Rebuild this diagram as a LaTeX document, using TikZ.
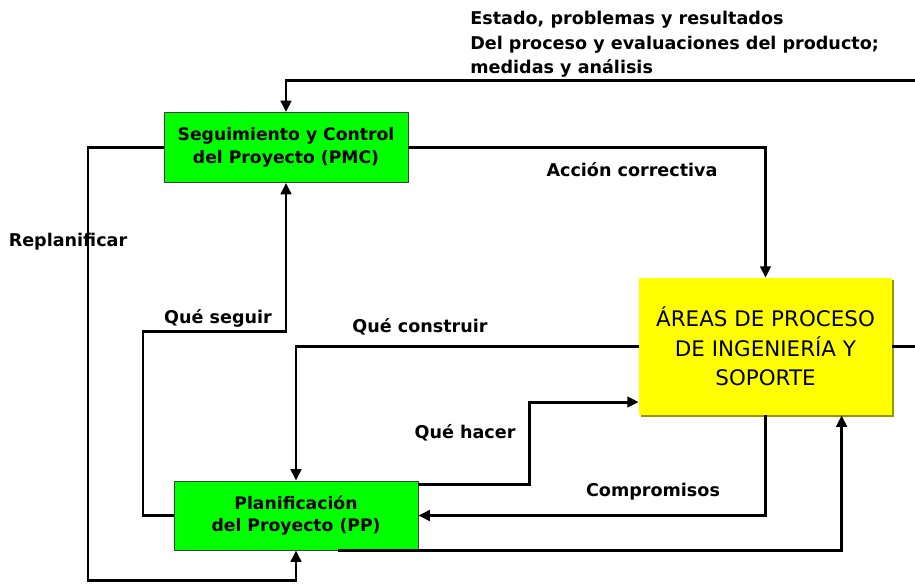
\documentclass[tikz,border=0pt]{standalone}
\usepackage{fontspec}
\setmainfont{DejaVu Sans}
\usetikzlibrary{shadows, arrows.meta, calc}
\definecolor{verdeProc}{RGB}{0,255,0}
\definecolor{amarilloProc}{RGB}{255,255,0}
\definecolor{sombraProc}{RGB}{150,150,0}
\tikzset{
    linea/.style = {draw, line width=1.7pt},
    flujo/.style = {linea, -{Triangle[length=6.5pt, width=6pt]}},
}
\tikzset{
    proceso/.style = {draw=black!75, line width=0.5pt, fill=verdeProc, minimum width=4.88cm,
        minimum height=1.4cm, align=center, inner sep=0pt,
        font=\bfseries\fontsize{9.8}{13}\selectfont},
    areas/.style = {fill=amarilloProc, minimum width=5.06cm, minimum height=2.74cm,
        align=center, inner sep=0pt, font=\fontsize{12.2}{16.7}\selectfont,
        drop shadow={shadow xshift=1.3pt, shadow yshift=-1.3pt, fill=sombraProc, opacity=1}},
    etiqueta/.style = {inner sep=0pt, font=\bfseries\fontsize{10}{13.9}\selectfont},
}

\begin{document}
\begin{tikzpicture}[x=0.02cm, y=-0.02cm]
    \useasboundingbox (0,0) rectangle (915,583);

    \node[proceso] (pmc) at (286, 147.5) {Seguimiento y Control\\del Proyecto (PMC)};
    \node[proceso, minimum height=1.38cm] (pp) at (296, 515.5) {Planificación\\del Proyecto (PP)};
    \node[areas] (ing) at (765.5, 346.5) {ÁREAS DE PROCESO\\DE INGENIERÍA Y\\SOPORTE};

    \node[etiqueta, anchor=north west, align=left] (estado) at (470, 11)
        {Estado, problemas y resultados\\Del proceso y evaluaciones del producto;\\medidas y análisis};
    \node[etiqueta] (accion) at (632, 170) {Acción correctiva};
    \node[etiqueta] (replanificar) at (68, 242) {Replanificar};
    \node[etiqueta] (seguir lbl) at (218, 318) {Qué seguir};
    \node[etiqueta] (construir lbl) at (420, 327) {Qué construir};
    \node[etiqueta] (hacer lbl) at (465, 433) {Qué hacer};
    \node[etiqueta] (compromisos) at (653, 492) {Compromisos};

    \coordinate (esq R) at (915, 80);
    \coordinate (sal R) at (915, 346.5);
    \coordinate (replan) at (88, 580);
    \coordinate (seguir) at (143, 331);
    \coordinate (hacer) at (529, 402);

    \draw[flujo] (esq R) -| (pmc.north);
    \draw[linea] (ing.east) -- (sal R);
    \draw[flujo] (pmc.east) -| (ing.north);
    \draw[flujo] (pmc.west) -| (replan) -| (pp.south);
    \draw[flujo] (pp.west) -| (seguir) -| (pmc.south);
    \draw[flujo] (ing.west) -| (pp.north);
    \draw[flujo] ([yshift=-2.3pt]pp.north east) -| (hacer) -- (hacer -| ing.west);
    \draw[flujo] (ing.south) |- (pp.east);
    \draw[flujo] ($(pp.south)!0.34!(pp.south east)$) -| ($(ing.south)!0.6!(ing.south east)$);
\end{tikzpicture}
\end{document}
